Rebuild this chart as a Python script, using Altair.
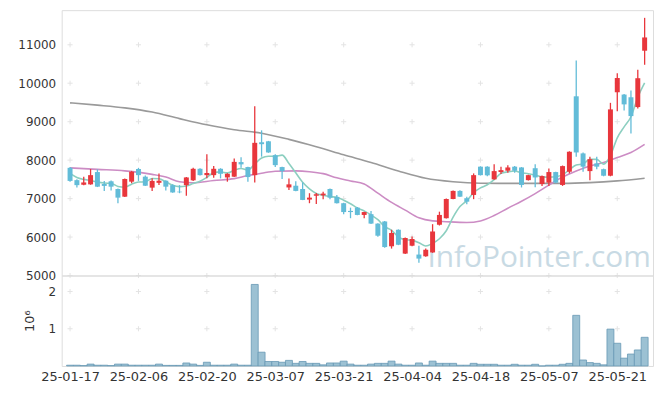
import altair as alt
import pandas as pd
import numpy as np

# ---------------- data ----------------
tick_index = [0, 10, 20, 30, 40, 50, 60, 70, 80]
tick_labels = ["25-01-17", "25-02-06", "25-02-20", "25-03-07", "25-03-21",
               "25-04-04", "25-04-18", "25-05-07", "25-05-21"]

opens = [7800, 7480, 7360, 7370, 7690, 7380, 7450, 7250, 7050, 7440,
         7770, 7570, 7285, 7410, 7465, 7350, 7180, 7350, 7475, 7775,
         7610, 7610, 7775, 7550, 7570, 7950, 7820, 7610, 8465, 8490,
         8130, 7820, 7290, 7335, 7250, 6975, 7075, 7085, 7250, 7045,
         6880, 6680, 6765, 6575, 6595, 6350, 6405, 5760, 6190, 5570,
         5775, 5545, 5500, 5600, 6320, 6490, 6990, 7200, 7010, 7095,
         7830, 7830, 7500, 7690, 7725, 7830, 7810, 7480, 7790, 7380,
         7415, 7690, 7355, 7700, 9660, 8175, 7715, 7915, 7765, 7595,
         9765, 9705, 9635, 9380, 10845]
highs = [7820, 7500, 7570, 7770, 7760, 7460, 7470, 7260, 7520, 7720,
         7800, 7600, 7530, 7655, 7480, 7370, 7350, 7560, 7800, 7790,
         8150, 7850, 7790, 7660, 8040, 8075, 7830, 9400, 8775, 8500,
         8150, 7830, 7525, 7450, 7420, 7140, 7145, 7180, 7260, 7095,
         6890, 6765, 6780, 6660, 6680, 6360, 6420, 6190, 6200, 5990,
         6015, 5775, 5700, 6335, 6660, 7000, 7210, 7220, 7050, 7655,
         7840, 7840, 7895, 7830, 7865, 7850, 7820, 7620, 7890, 7600,
         7785, 7700, 7860, 8230, 10590, 8200, 8085, 8085, 7780, 9490,
         10260, 9720, 9810, 10350, 11700]
lows = [7440, 7290, 7350, 7360, 7300, 7200, 7210, 6880, 7040, 7400,
        7460, 7330, 7200, 7355, 7210, 7150, 7140, 7075, 7460, 7600,
        7530, 7540, 7525, 7440, 7560, 7800, 7440, 7420, 8090, 8190,
        7820, 7510, 7225, 7190, 6960, 6880, 6860, 6985, 6985, 6870,
        6595, 6490, 6565, 6490, 6340, 6010, 5720, 5700, 5790, 5560,
        5760, 5330, 5490, 5590, 6300, 6480, 6980, 7040, 6855, 6985,
        7600, 7580, 7490, 7640, 7670, 7670, 7290, 7470, 7295, 7330,
        7330, 7400, 7330, 7655, 8085, 7700, 7480, 7765, 7580, 7580,
        9270, 9290, 8690, 9340, 10480]
closes = [7460, 7350, 7420, 7610, 7310, 7330, 7310, 7025, 7510, 7700,
          7610, 7335, 7460, 7465, 7310, 7160, 7165, 7550, 7775, 7610,
          7665, 7775, 7645, 7645, 7955, 7890, 7560, 8450, 8415, 8200,
          7870, 7715, 7370, 7200, 6965, 7025, 7110, 7130, 7025, 6880,
          6650, 6650, 6575, 6650, 6350, 6035, 5740, 6105, 5800, 5975,
          5950, 5440, 5670, 6145, 6575, 6990, 7200, 7050, 6920, 7610,
          7610, 7605, 7715, 7740, 7810, 7725, 7355, 7610, 7550, 7585,
          7690, 7415, 7845, 8215, 8200, 7830, 8025, 7830, 7595, 9320,
          10135, 9450, 9145, 10130, 11190]
volumes_m = [0.02, 0.02, 0.01, 0.05, 0.02, 0.02, 0.01, 0.05, 0.05, 0.02,
             0.02, 0.02, 0.02, 0.05, 0.015, 0.015, 0.015, 0.08, 0.05, 0.015,
             0.10, 0.02, 0.02, 0.02, 0.05, 0.02, 0.02, 2.19, 0.37, 0.12,
             0.12, 0.10, 0.15, 0.07, 0.12, 0.07, 0.07, 0.03, 0.08, 0.08,
             0.13, 0.05, 0.02, 0.02, 0.05, 0.07, 0.07, 0.13, 0.05, 0.02,
             0.02, 0.08, 0.02, 0.13, 0.07, 0.07, 0.07, 0.02, 0.02, 0.07,
             0.045, 0.045, 0.045, 0.02, 0.02, 0.045, 0.02, 0.02, 0.045, 0.0,
             0.02, 0.02, 0.045, 0.07, 1.36, 0.16, 0.09, 0.07, 0.03, 0.99,
             0.61, 0.21, 0.32, 0.43, 0.77]

# first values of the 5-day average (need earlier closes)
ma5_head = [7655, 7550, 7500, 7470]

ma20_idx = [0, 4, 8, 12, 14, 16, 18, 21, 24, 26, 28, 30, 33, 35, 37, 39, 41, 43,
            45, 47, 49, 51, 53, 55, 58, 60, 62, 64, 66, 68, 70, 72, 74, 76, 78,
            80, 82, 84]
ma20_val = [7800, 7760, 7720, 7630, 7560, 7440, 7410, 7470, 7520, 7600, 7660,
            7710, 7720, 7700, 7650, 7540, 7460, 7380, 7140, 6900, 6700, 6500,
            6420, 6400, 6380, 6420, 6560, 6750, 6930, 7130, 7350, 7560, 7720,
            7850, 7940, 8070, 8200, 8410]

ma60_idx = [0, 4, 8, 12, 16, 20, 24, 28, 32, 36, 40, 44, 48, 52, 56, 60, 64,
            68, 72, 76, 80, 84]
ma60_val = [9490, 9430, 9360, 9250, 9080, 8920, 8790, 8700, 8540, 8350, 8140,
            7940, 7720, 7530, 7440, 7400, 7395, 7395, 7395, 7415, 7460, 7530]

price_ticks = [5000, 6000, 7000, 8000, 9000, 10000, 11000]
vol_ticks = [1, 2]

# ---------------- frames ----------------
n = len(closes)
df = pd.DataFrame({"i": list(range(n)), "open": opens, "high": highs,
                   "low": lows, "close": closes, "vol": volumes_m})
df["dir"] = np.where(df["close"] >= df["open"], "up", "down")

ma5 = df["close"].rolling(5).mean()
ma5.iloc[:4] = ma5_head
df_ma5 = pd.DataFrame({"i": df["i"], "v": ma5})
df_ma20 = pd.DataFrame({"i": ma20_idx, "v": ma20_val})
df_ma60 = pd.DataFrame({"i": ma60_idx, "v": ma60_val})

grid_price = pd.DataFrame([(a, b) for a in tick_index for b in price_ticks], columns=["i", "y"])
grid_vol = pd.DataFrame([(a, b) for a in tick_index for b in vol_ticks], columns=["i", "y"])

RED = "#e8363c"
BLUE = "#62bcd8"
TEXT = "#333333"
FONT = "DejaVu Sans"

xscale = alt.Scale(domain=[-0.5, n - 0.5], nice=False, zero=False)
color = alt.Color("dir:N", scale=alt.Scale(domain=["up", "down"], range=[RED, BLUE]), legend=None)
pscale = alt.Scale(domain=[5000, 11900], nice=False, zero=False)

cross = "M-1,0L1,0M0,-1L0,1"

# ---------------- price panel ----------------
base = alt.Chart(df)
xp = alt.X("i:Q", scale=xscale, axis=None)

watermark = alt.Chart(pd.DataFrame({"t": ["InfoPointer.com"]})).mark_text(
    font="Open Sans", fontSize=30, color="#c3d7e2", align="left", baseline="alphabetic",
    opacity=0.9
).encode(text="t:N", x=alt.value(368), y=alt.value(258))

gp = alt.Chart(grid_price).mark_point(shape=cross, size=26, filled=False,
                                       stroke="#d9d9d9", strokeWidth=1).encode(
    x=alt.X("i:Q", scale=xscale, axis=None),
    y=alt.Y("y:Q", scale=pscale,
            axis=alt.Axis(values=price_ticks, format="d", ticks=False, domain=False, grid=False,
                          labelPadding=6, labelFontSize=12, labelFont=FONT,
                          labelColor=TEXT, title=None)))

line60 = alt.Chart(df_ma60).mark_line(color="#9a9a9a", strokeWidth=1.6, interpolate="monotone").encode(
    x=xp, y=alt.Y("v:Q", scale=pscale))
line20 = alt.Chart(df_ma20).mark_line(color="#cc8cc4", strokeWidth=1.6, interpolate="monotone").encode(
    x=xp, y=alt.Y("v:Q", scale=pscale))
line5 = alt.Chart(df_ma5).mark_line(color="#8ccfc0", strokeWidth=1.6, interpolate="monotone").encode(
    x=xp, y=alt.Y("v:Q", scale=pscale))

wick = base.mark_rule(strokeWidth=1.3).encode(
    x=xp, y=alt.Y("low:Q", scale=pscale), y2="high:Q", color=color)
body = base.mark_bar(size=5).encode(
    x=xp, y=alt.Y("open:Q", scale=pscale), y2="close:Q", color=color)

price = alt.layer(watermark, gp, line60, line20, line5, wick, body).properties(
    width=595, height=267)

# ---------------- volume panel ----------------
vscale = alt.Scale(domain=[0, 2.43], nice=False, zero=True)
labels_js = "[" + ",".join("'" + s + "'" for s in tick_labels) + "]"
idx_js = "[" + ",".join(str(v) for v in tick_index) + "]"

xv = alt.X("i:Q", scale=xscale,
           axis=alt.Axis(values=tick_index, ticks=False, domain=False, grid=False,
                         labelExpr=labels_js + "[indexof(" + idx_js + ", datum.value)]",
                         labelPadding=5, labelFontSize=13, labelFont=FONT,
                         labelColor=TEXT, title=None, labelOverlap=False))

gv = alt.Chart(grid_vol).mark_point(shape=cross, size=26, filled=False,
                                     stroke="#d9d9d9", strokeWidth=1).encode(
    x=xv,
    y=alt.Y("y:Q", scale=vscale,
            axis=alt.Axis(values=vol_ticks, format="d", ticks=False, domain=False, grid=False,
                          labelPadding=6, labelFontSize=12, labelFont=FONT,
                          labelColor=TEXT, title="10⁶", titleFont=FONT,
                          titleFontSize=13, titleFontWeight="normal",
                          titleColor=TEXT, titlePadding=12)))

vbars = base.mark_bar(size=7, fill="#9cc1d3", stroke="#6899b5", strokeWidth=0.8).encode(
    x=xv, y=alt.Y("vol:Q", scale=vscale))

volume = alt.layer(gv, vbars).properties(width=595, height=91)

chart = alt.vconcat(price, volume, spacing=0, bounds="flush").properties(
    padding={"left": 9, "top": 0, "right": 3, "bottom": 0}
).configure_view(stroke="#e2e2e2", strokeWidth=1).configure(background="white")

chart.save("out.html", embed_options={"renderer": "svg", "actions": False})
